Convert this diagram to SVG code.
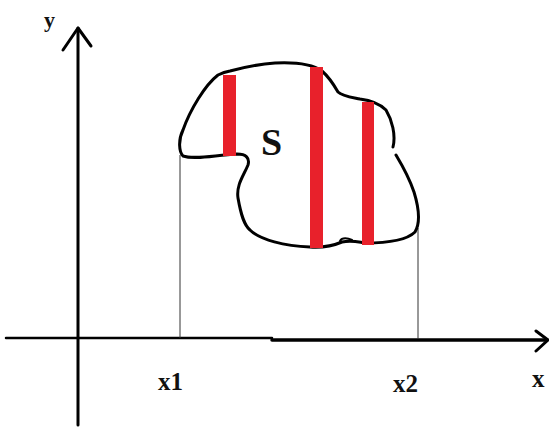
<svg xmlns="http://www.w3.org/2000/svg" width="549" height="430" viewBox="0 0 549 430">
<style>
.lbl{font-family:"Liberation Serif",serif;font-weight:bold;fill:#111}
.ax{stroke:#000;fill:none;stroke-linecap:round;stroke-linejoin:round}
.thin{stroke:#333;stroke-width:1;fill:none}
.bar{fill:#e8212b}
</style>
<rect width="549" height="430" fill="#fff"/>
<g id="axes">
<path class="ax" d="M78,425 L78,28" stroke-width="3"/>
<path class="ax" d="M63,50 L78,28 L91,46" stroke-width="3"/>
<path class="ax" d="M6,338 L272,338" stroke-width="2.5"/>
<path class="ax" d="M272,340 L547,340" stroke-width="3.5"/>
<path class="ax" d="M536,331 L548,340 L536,351" stroke-width="3"/>
</g>
<g id="connectors">
<line class="thin" x1="180" y1="155" x2="180" y2="338"/>
<line class="thin" x1="418" y1="228" x2="418" y2="339"/>
</g>
<g id="region">
<path d="M393,147 C396,135 392,120 386,110 C378,102 368,100 360,99 C350,97 342,96 338,92 C334,85 330,78 322,71 C312,64 295,62 275,63 C260,64 245,67 230,71 C224,72 220,74 218,75 C205,85 190,110 183,130 C178,140 179,152 183,156 C195,160 215,155 237,154 C246,154 250,158 248,165 C244,175 236,185 238,198 C241,215 244,225 250,230 C260,240 285,246 310,247 C325,248 335,245 342,242 C352,240 358,242 365,243 C380,243 405,242 415,232 C421,222 418,205 414,192 C410,180 402,165 396,155" fill="none" stroke="#000" stroke-width="3" stroke-linecap="round" stroke-linejoin="round"/>
<path d="M340,241 C342,237 348,238 352,240" fill="none" stroke="#000" stroke-width="2" stroke-linecap="round"/>
<rect class="bar" x="223" y="75" width="13" height="81"/>
<rect class="bar" x="310" y="67" width="13" height="181"/>
<rect class="bar" x="362" y="102" width="12" height="143"/>
<text class="lbl" x="261" y="155" font-size="38">S</text>
</g>
<g id="labels">
<text class="lbl" x="44" y="27" font-size="22">y</text>
<text class="lbl" x="158" y="390" font-size="25">x1</text>
<text class="lbl" x="393" y="392" font-size="25">x2</text>
<text class="lbl" x="532" y="387" font-size="25">x</text>
</g>
</svg>
